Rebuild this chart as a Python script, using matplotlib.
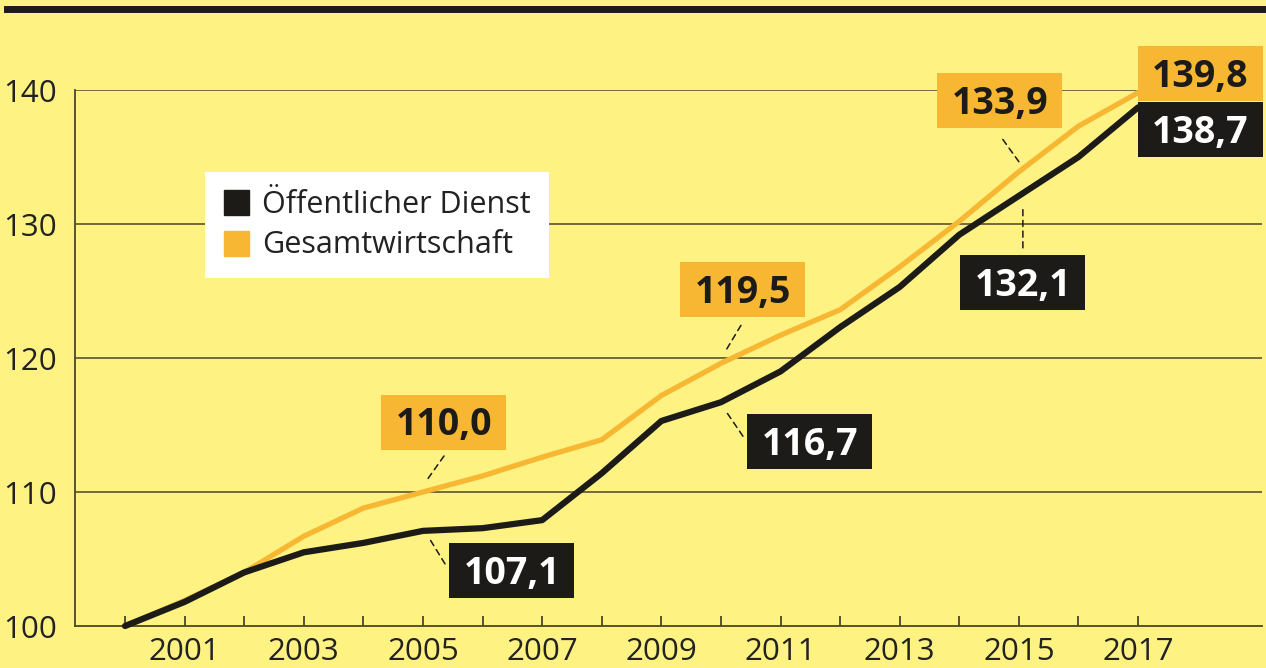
import matplotlib
matplotlib.use("Agg")
import matplotlib.pyplot as plt
from matplotlib.lines import Line2D
from matplotlib.patches import Rectangle
from matplotlib.transforms import offset_copy

# Daten (Index 2000 = 100)
jahre = list(range(2000, 2018))
oeffentlich = [100, 101.8, 104.0, 105.5, 106.2, 107.1, 107.3, 107.9, 111.4, 115.3,
               116.7, 119.0, 122.3, 125.3, 129.2, 132.1, 135.0, 138.7]
gesamt = [100, 101.9, 104.0, 106.7, 108.8, 110.0, 111.2, 112.6, 113.9, 117.2,
          119.6, 121.7, 123.6, 126.8, 130.2, 133.9, 137.3, 139.8]
serien = ["Öffentlicher Dienst", "Gesamtwirtschaft"]
jahr_labels = [str(j) if j % 2 == 1 else "" for j in jahre]
y_ticks = [100, 110, 120, 130, 140]

# Beschriftungen: (Reihe, Jahr, Text, Box-Versatz px, Leitlinie von, bis)
beschriftungen = [
    ("g", 2005, "110,0", (21, 70), (4, 12), (21, 36)),
    ("o", 2005, "107,1", (89, -40), (6, -7), (22, -33)),
    ("g", 2010, "119,5", (22, 74), (5, 13), (20, 38)),
    ("o", 2010, "116,7", (89, -39), (5, -9), (22, -34)),
    ("g", 2015, "133,9", (-19, 71), (-18, 35), (0, 10)),
    ("o", 2015, "132,1", (4, -87), (4, -11), (4, -52)),
    ("g", 2017, "139,8", (62, 19), None, None),
    ("o", 2017, "138,7", (62, -22), None, None),
]
BOX_B, BOX_H = 125, 55  # Boxgröße in Pixeln

GELB = "#fef283"
ORANGE = "#f7b733"
SCHWARZ = "#1c1b18"
GRID = "#4a4628"

plt.rcParams['font.family'] = ['Open Sans', 'DejaVu Sans']

fig = plt.figure(figsize=(12.66, 6.68), dpi=100, facecolor=GELB)
ax = fig.add_axes([75 / 1266, 1 - 626 / 668, 1187 / 1266, 536 / 668])
ax.set_facecolor(GELB)

ax.set_xlim(1999.16, 2019.08)
ax.set_ylim(100, 140)

for y in y_ticks[1:]:
    ax.axhline(y, color=GRID, lw=1.1, zorder=1)

ax.plot(jahre, gesamt, color=ORANGE, lw=3.8, zorder=3, clip_on=False,
        solid_joinstyle="round", solid_capstyle="round")
ax.plot(jahre, oeffentlich, color=SCHWARZ, lw=4.5, zorder=4, clip_on=False,
        solid_joinstyle="round", solid_capstyle="round")

for sp in ["top", "right"]:
    ax.spines[sp].set_visible(False)
for sp in ["left", "bottom"]:
    ax.spines[sp].set_color(GRID)
    ax.spines[sp].set_linewidth(1.3)

ax.set_xticks(jahre)
ax.set_xticklabels(jahr_labels)
ax.set_yticks(y_ticks)
ax.tick_params(axis="x", direction="in", length=7, width=1.3, color=GRID,
               labelsize=22.5, pad=8, labelcolor="#222")
ax.tick_params(axis="y", length=0, labelsize=22.5, pad=13, labelcolor="#222")

# Pixel -> Dateneinheiten für die Boxen
px_x = ax.bbox.width / (ax.get_xlim()[1] - ax.get_xlim()[0])
px_y = ax.bbox.height / (ax.get_ylim()[1] - ax.get_ylim()[0])
bw, bh = BOX_B / px_x, BOX_H / px_y

# Wertebeschriftungen
werte = {"o": dict(zip(jahre, oeffentlich)), "g": dict(zip(jahre, gesamt))}
for reihe, jahr, text, box, l1, l2 in beschriftungen:
    wert = werte[reihe][jahr]
    if reihe == "g":
        fc, tc = ORANGE, SCHWARZ
    else:
        fc, tc = SCHWARZ, "white"
    tr = offset_copy(ax.transData, fig=fig, x=box[0], y=box[1], units="dots")
    ax.add_patch(Rectangle((jahr - bw / 2, wert - bh / 2), bw, bh, transform=tr,
                           fc=fc, ec="none", zorder=6, clip_on=False))
    tr_t = offset_copy(ax.transData, fig=fig, x=box[0], y=box[1] - 13.5, units="dots")
    ax.text(jahr, wert, text, transform=tr_t, ha="center", va="baseline",
            fontsize=27, fontweight="bold", color=tc, zorder=7, clip_on=False)
    if l1 is not None:
        ax.annotate("", xy=(jahr, wert),
                    xycoords=offset_copy(ax.transData, fig=fig, x=l1[0], y=l1[1], units="dots"),
                    xytext=(jahr, wert),
                    textcoords=offset_copy(ax.transData, fig=fig, x=l2[0], y=l2[1], units="dots"),
                    arrowprops=dict(arrowstyle="-", ls=(0, (4, 3)), lw=1.1,
                                    color=SCHWARZ, shrinkA=0, shrinkB=0),
                    zorder=5)

# Legende
handles = [Line2D([], [], marker="s", ls="none", markersize=18, color=SCHWARZ),
           Line2D([], [], marker="s", ls="none", markersize=18, color=ORANGE)]
leg = ax.legend(handles, serien, loc="upper left", bbox_to_anchor=(0.1095, 0.847),
                fontsize=22, frameon=True, fancybox=False, framealpha=1,
                borderpad=0.58, handlelength=0.85, handletextpad=0.45,
                labelspacing=0.35, borderaxespad=0)
leg.get_frame().set_facecolor("white")
leg.get_frame().set_edgecolor("none")
for t in leg.get_texts():
    t.set_color("#222")
leg.set_zorder(8)

# dicke Linie oben
fig.add_artist(Line2D([7 / 1266, 1], [1 - 8.5 / 668, 1 - 8.5 / 668],
                      color=SCHWARZ, lw=5, transform=fig.transFigure))

fig.savefig("out.png", dpi=100, facecolor=GELB)
